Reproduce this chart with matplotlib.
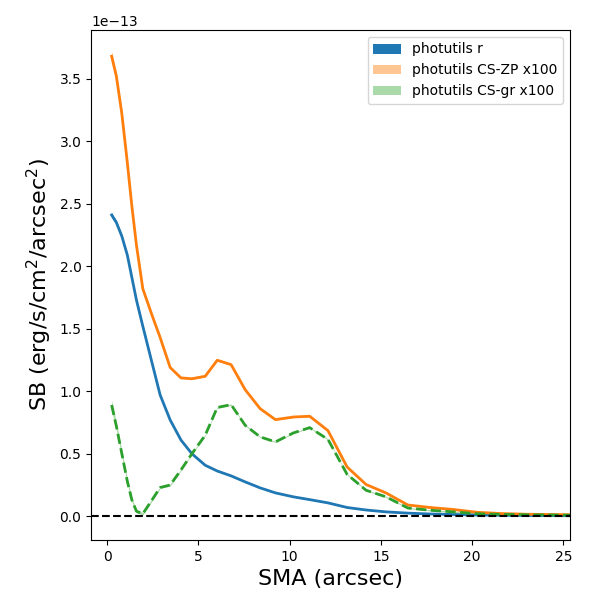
import matplotlib
matplotlib.use("Agg")
import matplotlib.pyplot as plt
import numpy as np

# SMA (arcsec)
sma = [0.24, 0.5, 0.8, 1.1, 1.35, 1.6, 1.95, 2.45, 2.9, 3.45, 4.04, 4.64, 5.37,
       6.03, 6.79, 7.56, 8.38, 9.22, 10.21, 11.1, 12.1, 13.15, 14.19, 15.29,
       16.48, 17.7, 18.98, 20.26, 21.53, 23.0, 24.27, 25.6]

# surface brightness in units of 1e-13
sb_r = [2.41, 2.35, 2.24, 2.09, 1.91, 1.73, 1.52, 1.23, 0.97, 0.77, 0.61, 0.50, 0.408,
        0.362, 0.323, 0.275, 0.227, 0.187, 0.155, 0.133, 0.107, 0.07, 0.05, 0.035,
        0.025, 0.018, 0.014, 0.010, 0.008, 0.006, 0.005, 0.004]
sb_zp = [3.68, 3.52, 3.22, 2.83, 2.48, 2.17, 1.82, 1.61, 1.43, 1.19, 1.107, 1.10, 1.12,
         1.248, 1.213, 1.013, 0.861, 0.773, 0.794, 0.80, 0.685, 0.394, 0.254, 0.186,
         0.09, 0.07, 0.054, 0.032, 0.022, 0.016, 0.014, 0.012]
sb_gr = [0.89, 0.72, 0.50, 0.28, 0.13, 0.04, 0.02, 0.13, 0.23, 0.25, 0.37, 0.50, 0.648,
         0.87, 0.893, 0.728, 0.635, 0.595, 0.667, 0.709, 0.615, 0.335, 0.208, 0.155,
         0.066, 0.048, 0.035, 0.020, 0.015, 0.012, 0.010, 0.008]

# uncertainty half-widths (units of 1e-13)
err_r = [0.02, 0.015, 0.012, 0.01, 0.008, 0.007, 0.006, 0.005, 0.004, 0.004, 0.003, 0.003, 0.003,
         0.003, 0.002, 0.002, 0.002, 0.002, 0.002, 0.002, 0.002, 0.002, 0.002, 0.002,
         0.002, 0.002, 0.002, 0.002, 0.002, 0.002, 0.002, 0.002]
err_zp = [0.04, 0.03, 0.025, 0.02, 0.015, 0.012, 0.01, 0.01, 0.008, 0.008, 0.006, 0.006, 0.006,
          0.006, 0.006, 0.006, 0.005, 0.005, 0.005, 0.005, 0.005, 0.005, 0.005, 0.005,
          0.005, 0.005, 0.005, 0.005, 0.005, 0.005, 0.005, 0.005]
err_gr = [0.04, 0.03, 0.025, 0.02, 0.015, 0.012, 0.01, 0.01, 0.008, 0.008, 0.006, 0.006, 0.006,
          0.006, 0.006, 0.006, 0.005, 0.005, 0.005, 0.005, 0.005, 0.005, 0.005, 0.005,
          0.005, 0.005, 0.005, 0.005, 0.005, 0.005, 0.005, 0.005]

scale = 1e-13
x = np.array(sma)

fig = plt.figure(figsize=(6, 6), dpi=100)
ax = fig.add_axes([0.152, 0.10, 0.798, 0.85])

series = [
    (sb_r, err_r, "C0", "-", 1.0, "photutils r"),
    (sb_zp, err_zp, "C1", "-", 0.45, "photutils CS-ZP x100"),
    (sb_gr, err_gr, "C2", "--", 0.4, "photutils CS-gr x100"),
]
for vals, errs, col, ls, alpha, lab in series:
    v = np.array(vals) * scale
    e = np.array(errs) * scale
    ax.fill_between(x, v - e, v + e, color=col, alpha=alpha, label=lab, linewidth=0)
    ax.plot(x, v, color=col, ls=ls, lw=2)

ax.axhline(0, color="k", ls="--", lw=1.5)
ax.set_xlim(-0.88, 25.37)
ax.set_ylim(-0.19e-13, 3.89e-13)
ax.set_xlabel("SMA (arcsec)", fontsize=16)
ax.set_ylabel("SB (erg/s/cm$^2$/arcsec$^2$)", fontsize=16)
ax.legend(loc="upper right")

fig.savefig("out.png", dpi=100)
